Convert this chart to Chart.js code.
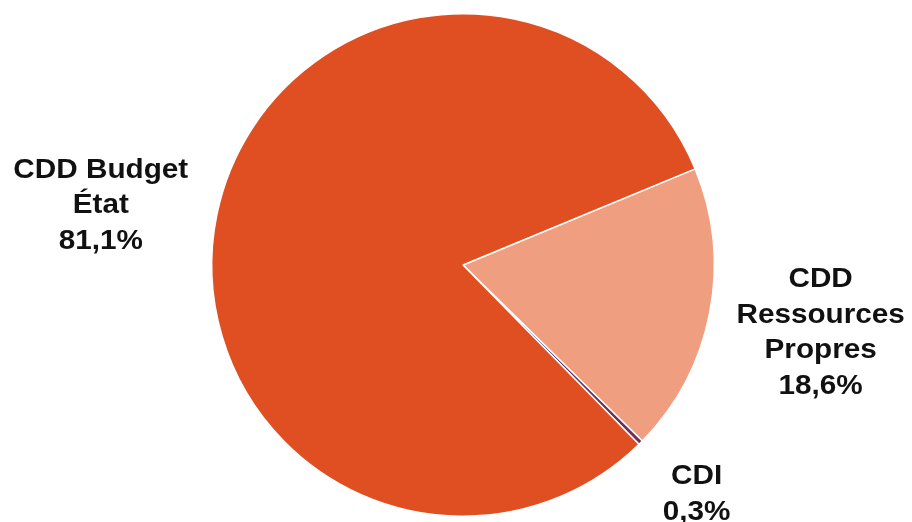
<!DOCTYPE html>
<html>
<head>
<meta charset="utf-8">
<script src="https://cdn.jsdelivr.net/npm/chart.js@4"></script>
<style>
html,body{margin:0;padding:0;background:#fff;}
#wrap{width:912px;height:522px;position:relative;}
</style>
</head>
<body>
<div id="wrap"><canvas id="c" width="912" height="522"></canvas></div>
<script>
const categories = ["CDD Ressources Propres", "CDI", "CDD Budget État"];
const labelLines = [["CDD", "Ressources", "Propres"], ["CDI"], ["CDD Budget", "État"]];
const values = [18.6, 0.3, 81.1];
const valueLabels = ["18,6%", "0,3%", "81,1%"];
const colors = ["#F09E80", "#6E2F55", "#E04F22"];
// label block offsets (dx, dy of block centre from arc outer midpoint)
const labelOffsets = [[111, 20], [56, 52], [-116, -9]];

const labelPlugin = {
  id: 'outerLabels',
  afterDatasetsDraw(chart) {
    const ctx = chart.ctx;
    const meta = chart.getDatasetMeta(0);
    const lineH = 35.5;
    ctx.save();
    ctx.fillStyle = '#111';
    ctx.textAlign = 'center';
    ctx.textBaseline = 'middle';
    ctx.font = 'bold 27px "Liberation Sans", Arial, sans-serif';
    meta.data.forEach((arc, i) => {
      const p = arc.getProps(['x','y','startAngle','endAngle','outerRadius'], true);
      const mid = (p.startAngle + p.endAngle) / 2;
      const ox = p.x + Math.cos(mid) * p.outerRadius;
      const oy = p.y + Math.sin(mid) * p.outerRadius;
      const lines = labelLines[i].concat([valueLabels[i]]);
      const cx = ox + labelOffsets[i][0];
      const cy = oy + labelOffsets[i][1];
      const top = cy - (lines.length - 1) * lineH / 2;
      lines.forEach((t, k) => {
        ctx.save();
        ctx.translate(cx, top + k * lineH);
        ctx.scale(1.1, 1);
        ctx.fillText(t, 0, 0);
        ctx.restore();
      });
    });
    ctx.restore();
  }
};

new Chart(document.getElementById('c'), {
  type: 'pie',
  data: {
    labels: categories,
    datasets: [{
      data: values,
      backgroundColor: colors,
      borderColor: '#ffffff',
      borderWidth: 1.5
    }]
  },
  options: {
    responsive: false,
    animation: false,
    rotation: 67.5,
    layout: { padding: { left: 211, right: 197, top: 13, bottom: 5 } },
    plugins: { legend: { display: false }, tooltip: { enabled: false } }
  },
  plugins: [labelPlugin]
});
</script>
</body>
</html>
